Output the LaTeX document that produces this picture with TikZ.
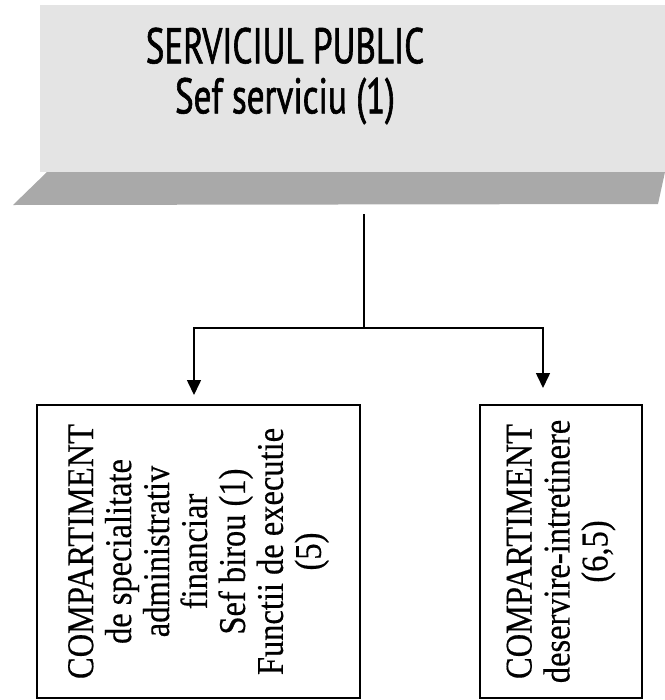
\documentclass[tikz,border=0pt]{standalone}
\usepackage{fontspec}
\setmainfont{Liberation Serif}
\newfontfamily\headfont[FakeStretch=0.7,FakeBold=1.2]{PT Sans}
\newfontfamily\boxfont[FakeStretch=0.86,FakeBold=0.4]{Liberation Serif}
\usetikzlibrary{arrows.meta}
\definecolor{fondgris}{HTML}{E4E4E4}
\definecolor{bandegris}{HTML}{A9A9A9}
\tikzset{titre/.style={
    align=center,
    font=\headfont\fontsize{28.5}{28.5}\selectfont}}
\tikzset{compart/.style={
    draw,
    line width=1pt,
    rotate=90,
    align=center,
    inner sep=0pt,
    font=\boxfont\fontsize{21.5}{21.6}\selectfont}}
\tikzset{fleche/.style={
    -{Triangle[length=0.3cm,width=0.28cm]},
    line width=0.9pt}}

\begin{document}
\begin{tikzpicture}[x=0.02cm, y=-0.02cm]
\useasboundingbox (0,0) rectangle (665,700);

% bandeau du haut
\fill[fondgris] (40,5) rectangle (665,172);
\fill[bandegris] (47,172) -- (665,172) -- (658,204) -- (13,205) -- cycle;
\node[titre] (serv) at (285,76) {SERVICIUL PUBLIC\\Sef serviciu (1)};

% compartiments
\node[compart,
  minimum width=5.86cm,
  minimum height=6.46cm] (compA) at (198.5,551.5)
  {COMPARTIMENT\\de specialitate\\administrativ\\financiar\\Sef birou (1)\\Functii de executie\\(5)};

\node[compart,
  minimum width=5.86cm,
  minimum height=3.24cm] (compB) at (561,551.5)
  {COMPARTIMENT\\deservire-intretinere\\(6,5)};

\coordinate (tige) at (364,214);
\coordinate (noeud) at (364,328);
\coordinate (pointeA) at (194,395);
\coordinate (pointeB) at (543,388);

  \draw[line width=0.9pt] (tige) -- (noeud);
  \draw[fleche] (noeud) -| (pointeA);
  \draw[fleche] (noeud) -| (pointeB);
\end{tikzpicture}
\end{document}
